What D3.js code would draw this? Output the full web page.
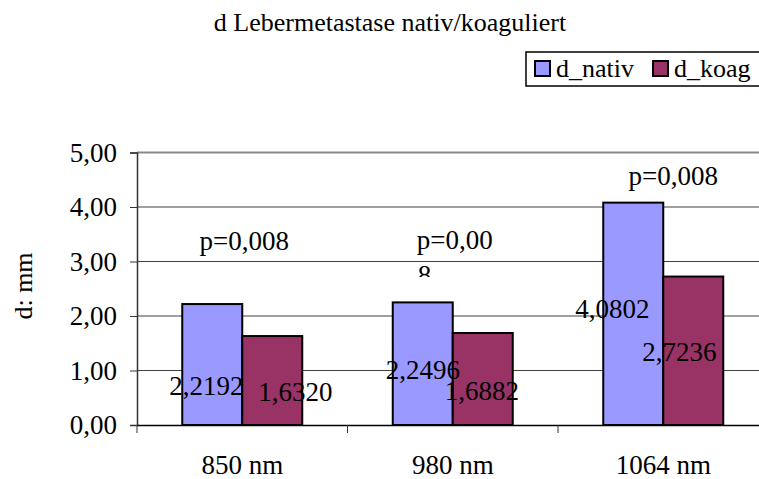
<!DOCTYPE html>
<html><head><meta charset="utf-8">
<script src="https://cdn.jsdelivr.net/npm/d3@7"></script>
<style>body{margin:0;background:#fff}svg{display:block}text{font-family:"Liberation Serif","Times New Roman",serif;fill:#000}</style>
</head><body>
<script>
const categories = ["850 nm","980 nm","1064 nm"];
const seriesNames = ["d_nativ","d_koag"];
const dNativ = [2.2192, 2.2496, 4.0802];
const dKoag = [1.6320, 1.6882, 2.7236];
const yTicks = [0,1,2,3,4,5];
const pLabels = ["p=0,008","p=0,00\n8","p=0,008"];
const colors = ["#9999FF","#993366"];

// layout constants (manually placed labels in original chart)
const labelOffsets = [ // [dx from bar center, dy from baseline y(0)]
  [[-6,-30],[23,-24]],
  [[0,-46],[-1,-25]],
  [[-21,-107],[-14,-64]]
];
const pOffsets = [[2,250,"middle"],[-36,249,"start"],[10,185,"middle"]];

const W=759,H=479;
const svg=d3.select("body").append("svg").attr("width",W).attr("height",H);
const plotLeft=137, plotTop=152.5, plotBottom=425, catW=210.5;
const x0=d3.scaleBand().domain(categories).range([plotLeft,plotLeft+catW*3]);
const x1=d3.scaleBand().domain(seriesNames).range([0,120]);
const gOff=(x0.bandwidth()-120)/2;
const y=d3.scaleLinear().domain([0,5]).range([plotBottom,plotTop]);

// title
svg.append("text").attr("x",390).attr("y",31).attr("text-anchor","middle").style("font-size","26px").text("d Lebermetastase nativ/koaguliert");

// gridlines
svg.append("g").selectAll("line").data(yTicks.filter(d=>d>0&&d<5)).join("line")
 .attr("x1",plotLeft).attr("x2",plotLeft+catW*3).attr("y1",d=>y(d)).attr("y2",d=>y(d))
 .attr("stroke","#404040").attr("stroke-width",1);
svg.append("line").attr("x1",plotLeft).attr("x2",plotLeft+catW*3).attr("y1",y(5)).attr("y2",y(5)).attr("stroke","#888").attr("stroke-width",2);

// bars
const data=categories.map((c,i)=>({c,i,vals:[dNativ[i],dKoag[i]]}));
const grp=svg.append("g").selectAll("g").data(data).join("g").attr("transform",d=>`translate(${x0(d.c)+gOff},0)`);
grp.selectAll("rect").data(d=>d.vals.map((v,j)=>({v,j,s:seriesNames[j]}))).join("rect")
 .attr("x",d=>x1(d.s)).attr("width",x1.bandwidth()).attr("y",d=>y(d.v)).attr("height",d=>plotBottom-y(d.v))
 .attr("fill",d=>colors[d.j]).attr("stroke","#000").attr("stroke-width",2);

// y axis
const yAxis=d3.axisLeft(y).tickValues(yTicks).tickFormat(d=>d3.format(".2f")(d).replace(".",",")).tickSize(7).tickPadding(13);
const ya=svg.append("g").attr("transform",`translate(${plotLeft},0)`).call(yAxis);
ya.select(".domain").attr("stroke","#333").attr("stroke-width",1.5);
ya.selectAll(".tick line").attr("stroke","#333");
ya.selectAll("text").style("font-size","27px").attr("font-family",null).attr("fill","#000");

// x axis
const xAxis=d3.axisBottom(x0).tickSize(0).tickPadding(30);
const xa=svg.append("g").attr("transform",`translate(0,${plotBottom})`).call(xAxis);
xa.select(".domain").attr("stroke","#000").attr("stroke-width",1.5);
xa.selectAll("text").style("font-size","27px").attr("font-family",null).attr("fill","#000");
xa.selectAll(".cat").data(d3.range(categories.length)).join("line").attr("class","cat")
 .attr("x1",i=>plotLeft+i*catW).attr("x2",i=>plotLeft+i*catW).attr("y1",0).attr("y2",8).attr("stroke","#333");

// y label
svg.append("text").attr("transform","translate(32,286) rotate(-90)").attr("text-anchor","middle").style("font-size","26px").text("d: mm");

// data labels
grp.each(function(d){
  const g=d3.select(this);
  d.vals.forEach((v,j)=>{
    const o=labelOffsets[d.i][j];
    g.append("text").attr("x",x1(seriesNames[j])+x1.bandwidth()/2+o[0]).attr("y",plotBottom+o[1])
     .attr("text-anchor","middle").style("font-size","27px").text(d3.format(".4f")(v).replace(".",","));
  });
});

// p labels
const defs=svg.append("defs");
defs.append("clipPath").attr("id","pclip").append("rect").attr("x",0).attr("y",0).attr("width",W).attr("height",277);
data.forEach(d=>{
  const o=pOffsets[d.i];
  const lines=pLabels[d.i].split("\n");
  const t=svg.append("text").attr("clip-path","url(#pclip)").attr("text-anchor",o[2]).style("font-size","27px");
  lines.forEach((l,k)=>{
    t.append("tspan").attr("x",x0(d.c)+x0.bandwidth()/2+o[0]+(k>0?1:0)).attr("y",o[1]+k*35).text(l);
  });
});

// legend
const lg=svg.append("g");
lg.append("rect").attr("x",526).attr("y",52).attr("width",260).attr("height",34).attr("fill","#fff").attr("stroke","#000").attr("stroke-width",1.5);
const lx=[535,653];
seriesNames.forEach((s,j)=>{
  lg.append("rect").attr("x",lx[j]).attr("y",61).attr("width",15).attr("height",15).attr("fill",colors[j]).attr("stroke","#000").attr("stroke-width",2);
  lg.append("text").attr("x",lx[j]+21).attr("y",77).style("font-size","26px").text(s);
});
</script>
</body></html>
